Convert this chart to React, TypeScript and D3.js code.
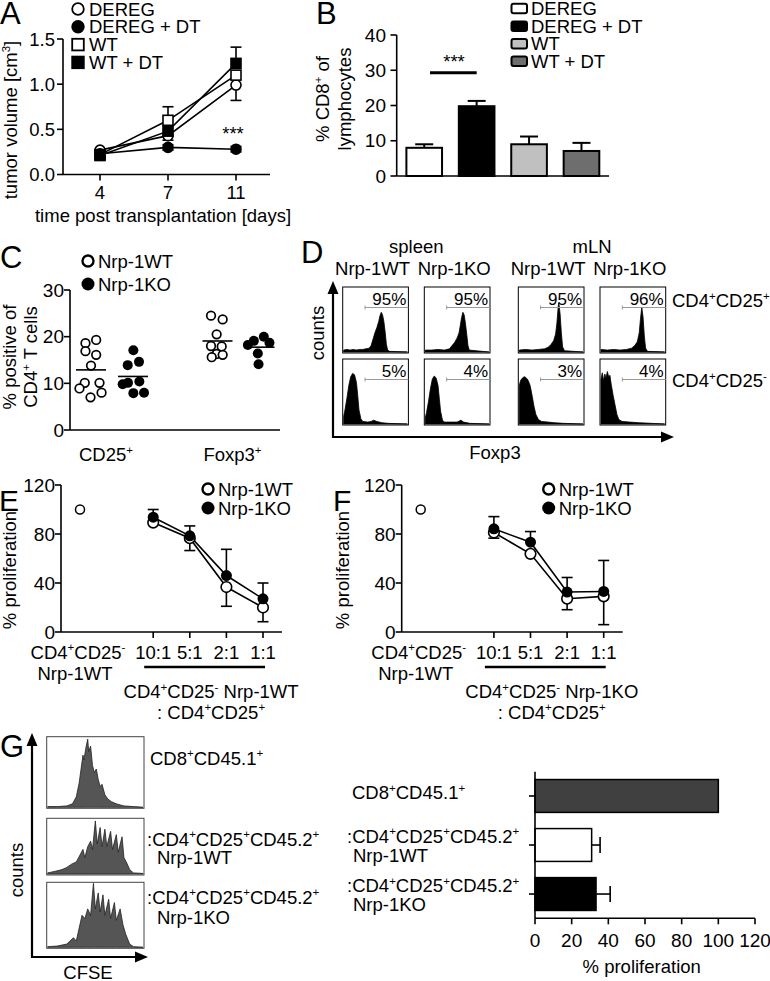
import React from "react";
import * as d3 from "d3";

const FONT = "'Liberation Sans', Arial, Helvetica, sans-serif";
const FS = 18.5;

// ---------- Panel A data ----------
const aDays = ["4", "7", "11"];
const aDereg = [0.27, 0.43, 0.99];
const aDeregUp = [0, 0, 0];
const aDeregDown = [0, 0.05, 0.17];
const aDeregDT = [0.23, 0.3, 0.28];
const aDeregDTUp = [0.02, 0.03, 0.03];
const aDeregDTDown = [0.02, 0.03, 0.03];
const aWT = [0.22, 0.6, 1.1];
const aWTUp = [0, 0.15, 0];
const aWTDown = [0, 0, 0];
const aWTDT = [0.21, 0.48, 1.23];
const aWTDTUp = [0, 0, 0.18];
const aWTDTDown = [0, 0, 0];
const aTicks = [0, 0.5, 1.0, 1.5];

// ---------- Panel B data ----------
const bGroups = ["DEREG", "DEREG + DT", "WT", "WT + DT"];
const bValues = [8.0, 19.8, 9.0, 7.1];
const bErrors = [1.0, 1.5, 2.2, 2.3];
const bFills = ["#ffffff", "#000000", "#c0c0c0", "#6e6e6e"];
const bTicks = [0, 10, 20, 30, 40];

// ---------- Panel C data ----------
const cCategories = ["CD25^+", "Foxp3^+"];
const cWTcd25 = [18.6, 19.3, 16.9, 16.1, 13.8, 10.1, 8.9, 10.1, 8.0, 7.0];
const cWTcd25Jit = [-0.46, 0.43, -0.46, 0.43, 0, -0.52, -0.96, 0.71, 0.88, -0.04];
const cKOcd25 = [17.1, 13.9, 14.6, 9.8, 10.1, 10.4, 7.9, 8.0];
const cKOcd25Jit = [0.03, -0.44, 0.5, -0.86, -0.42, 0.53, 0.03, 0.92];
const cWTfoxp3 = [24.5, 23.7, 20.5, 18.0, 17.9, 16.3, 15.6, 16.1];
const cWTfoxp3Jit = [-0.54, 0.43, -0.07, -0.54, 0.35, -0.07, -0.48, 0.43];
const cKOfoxp3 = [18.2, 19.1, 20.0, 18.7, 16.4, 14.1];
const cKOfoxp3Jit = [-0.97, -0.47, 0.36, 0.83, -0.14, -0.08];
const cTicks = [0, 10, 20, 30];

// ---------- Panel D data ----------
const dColumns = ["Nrp-1WT", "Nrp-1KO", "Nrp-1WT", "Nrp-1KO"];
const dTissues = ["spleen", "mLN"];
const dRows = ["CD4^+CD25^+", "CD4^+CD25^-"];
const dPercents = [
  ["95%", "95%", "95%", "96%"],
  ["5%", "4%", "3%", "4%"],
];
const dSpleenWTpos = [[0,0.03],[0.05,0.04],[0.1,0.03],[0.15,0.04],[0.2,0.03],[0.25,0.04],[0.3,0.04],[0.35,0.05],[0.4,0.06],[0.43,0.1],[0.46,0.2],[0.49,0.3],[0.52,0.38],[0.55,0.48],[0.57,0.57],[0.59,0.62],[0.61,0.58],[0.63,0.48],[0.65,0.32],[0.67,0.12],[0.69,0.03],[0.72,0.01],[1,0]];
const dSpleenKOpos = [[0,0.03],[0.1,0.03],[0.2,0.04],[0.3,0.03],[0.38,0.05],[0.42,0.1],[0.46,0.15],[0.5,0.22],[0.53,0.3],[0.55,0.42],[0.57,0.54],[0.59,0.62],[0.61,0.58],[0.63,0.45],[0.65,0.28],[0.67,0.1],[0.69,0.03],[1,0]];
const dMlnWTpos = [[0,0.03],[0.1,0.04],[0.2,0.03],[0.3,0.04],[0.4,0.05],[0.46,0.08],[0.5,0.12],[0.54,0.18],[0.57,0.28],[0.59,0.45],[0.61,0.7],[0.62,0.77],[0.64,0.6],[0.66,0.3],[0.68,0.08],[0.71,0.02],[1,0]];
const dMlnKOpos = [[0,0.04],[0.1,0.03],[0.2,0.04],[0.3,0.03],[0.4,0.04],[0.48,0.06],[0.53,0.1],[0.57,0.16],[0.6,0.3],[0.62,0.52],[0.64,0.7],[0.66,0.55],[0.68,0.25],[0.7,0.06],[0.73,0.01],[1,0]];
const dSpleenWTneg = [[0,0.12],[0.02,0.22],[0.05,0.4],[0.08,0.6],[0.11,0.74],[0.14,0.79],[0.17,0.77],[0.2,0.65],[0.22,0.45],[0.24,0.22],[0.27,0.08],[0.3,0.04],[0.38,0.03],[0.43,0.04],[0.47,0.06],[0.52,0.04],[0.6,0.02],[0.7,0.01],[1,0]];
const dSpleenKOneg = [[0,0.1],[0.02,0.18],[0.05,0.35],[0.08,0.55],[0.11,0.7],[0.14,0.75],[0.17,0.72],[0.2,0.6],[0.22,0.4],[0.24,0.2],[0.27,0.06],[0.3,0.03],[0.4,0.03],[0.5,0.03],[0.56,0.06],[0.6,0.03],[0.7,0.01],[1,0]];
const dMlnWTneg = [[0,0.6],[0.02,0.68],[0.05,0.72],[0.08,0.74],[0.11,0.72],[0.14,0.68],[0.17,0.6],[0.2,0.45],[0.23,0.28],[0.26,0.15],[0.3,0.07],[0.35,0.04],[0.45,0.03],[0.55,0.02],[0.7,0.01],[1,0]];
const dMlnKOneg = [[0,0.7],[0.02,0.8],[0.04,0.68],[0.06,0.78],[0.08,0.72],[0.1,0.82],[0.12,0.74],[0.14,0.76],[0.16,0.62],[0.19,0.45],[0.22,0.3],[0.25,0.15],[0.28,0.07],[0.33,0.04],[0.45,0.03],[0.6,0.02],[1,0]];

// ---------- Panel E / F data ----------
const ratioLabels = ["10:1", "5:1", "2:1", "1:1"];
const ctrlValue = 100;
const eWT = [89.3, 76.6, 36.7, 20.0];
const eKO = [93.7, 78.5, 46.1, 27.1];
const eKOErrUp = [6.3, 8.1, 21.4, 12.9];
const eWTErrDown = [0, 10.1, 15.7, 11.6];
const fWT = [81.2, 63.8, 27.2, 29.1];
const fKO = [84.2, 73.3, 32.6, 33.1];
const fKOErrUp = [10.0, 8.7, 11.9, 25.3];
const fWTErrDown = [4.6, 0, 9.0, 23.1];
const pTicks = [0, 40, 80, 120];

// ---------- Panel G data ----------
const gLabels = [["CD8^+CD45.1^+"], [":CD4^+CD25^+CD45.2^+", "Nrp-1WT"], [":CD4^+CD25^+CD45.2^+", "Nrp-1KO"]];
const gValues = [100, 30.9, 33.3];
const gErrors = [0, 4.6, 7.7];
const gFills = ["#404040", "#ffffff", "#000000"];
const gTicks = [0, 20, 40, 60, 80, 100, 120];
const gHistCD8 = [[0,0.01],[0.1,0.01],[0.2,0.02],[0.26,0.05],[0.3,0.15],[0.33,0.35],[0.35,0.55],[0.37,0.75],[0.38,0.68],[0.4,0.85],[0.42,0.98],[0.43,0.8],[0.45,0.88],[0.47,0.6],[0.49,0.5],[0.51,0.55],[0.53,0.4],[0.55,0.3],[0.57,0.33],[0.6,0.18],[0.63,0.12],[0.67,0.08],[0.72,0.05],[0.8,0.02],[0.9,0.01],[1,0]];
const gHistWT = [[0,0.02],[0.08,0.05],[0.15,0.08],[0.2,0.12],[0.25,0.18],[0.3,0.22],[0.34,0.35],[0.37,0.45],[0.39,0.3],[0.42,0.5],[0.45,0.6],[0.47,0.45],[0.5,0.97],[0.52,0.55],[0.55,0.85],[0.57,0.5],[0.6,0.82],[0.62,0.5],[0.66,0.78],[0.68,0.45],[0.72,0.72],[0.74,0.4],[0.78,0.68],[0.8,0.3],[0.83,0.2],[0.86,0.08],[0.9,0.02],[1,0.01]];
const gHistKO = [[0,0.01],[0.1,0.02],[0.2,0.05],[0.27,0.15],[0.3,0.1],[0.33,0.3],[0.36,0.5],[0.39,0.45],[0.42,0.6],[0.45,0.5],[0.48,1.0],[0.5,0.6],[0.53,0.85],[0.55,0.55],[0.58,0.82],[0.6,0.5],[0.64,0.75],[0.66,0.45],[0.7,0.7],[0.72,0.42],[0.76,0.6],[0.79,0.35],[0.82,0.2],[0.86,0.05],[0.9,0.01],[1,0]];

// ---------- helpers ----------
function RText({ x = 0, y = 0, text, fs = FS, anchor = "start", transform, fill = "#000" }: any) {
  const tokens: { t: string; sup: boolean }[] = [];
  const re = /\^(.)/g;
  let last = 0;
  let m: any;
  while ((m = re.exec(text))) {
    if (m.index > last) tokens.push({ t: text.slice(last, m.index), sup: false });
    tokens.push({ t: m[1], sup: true });
    last = re.lastIndex;
  }
  if (last < text.length) tokens.push({ t: text.slice(last), sup: false });
  const sh = fs * 0.38;
  let prev = false;
  return (
    <text x={x} y={y} fontSize={fs} textAnchor={anchor} fill={fill} transform={transform} fontFamily={FONT}>
      {tokens.map((tk, i) => {
        let dy = 0;
        if (tk.sup && !prev) dy = -sh;
        else if (!tk.sup && prev) dy = sh;
        prev = tk.sup;
        return (
          <tspan key={i} dy={dy} fontSize={tk.sup ? fs * 0.62 : fs}>
            {tk.t}
          </tspan>
        );
      })}
    </text>
  );
}

function VText({ cx, cy, text, fs = FS }: any) {
  return <RText text={text} fs={fs} anchor="middle" transform={`translate(${cx + fs * 0.35},${cy}) rotate(-90)`} />;
}

function Letter({ x, y, t, fs = 31 }: any) {
  return (
    <text x={x} y={y} fontSize={fs} fontFamily={FONT}>
      {t}
    </text>
  );
}

function ErrV({ x, y1, y2, w = 10, sw = 1.6 }: any) {
  return (
    <g stroke="#000" strokeWidth={sw}>
      <line x1={x} x2={x} y1={y1} y2={y2} />
      <line x1={x - w / 2} x2={x + w / 2} y1={y2} y2={y2} />
    </g>
  );
}

function Marker({ x, y, shape, filled, r = 5, sw = 1.6 }: any) {
  if (shape === "square")
    return <rect x={x - r} y={y - r} width={2 * r} height={2 * r} fill={filled ? "#000" : "#fff"} stroke="#000" strokeWidth={sw} />;
  return <circle cx={x} cy={y} r={r} fill={filled ? "#000" : "#fff"} stroke="#000" strokeWidth={sw} />;
}

function Arrow({ x1, y1, x2, y2 }: any) {
  const ang = Math.atan2(y2 - y1, x2 - x1);
  const L = 13, W = 5.5;
  const bx = x2 - L * Math.cos(ang), by = y2 - L * Math.sin(ang);
  const px = -Math.sin(ang) * W, py = Math.cos(ang) * W;
  return (
    <g>
      <line x1={x1} y1={y1} x2={bx} y2={by} stroke="#000" strokeWidth={2.2} />
      <polygon points={`${x2},${y2} ${bx + px},${by + py} ${bx - px},${by - py}`} fill="#000" />
    </g>
  );
}

function Hist({ x, y, w, h, pts, fill, stroke = "#000", border = "#000" }: any) {
  const xs = d3.scaleLinear().domain([0, 1]).range([x + 1, x + w - 1]);
  const ys = d3.scaleLinear().domain([0, 1]).range([y + h - 1, y + 1]);
  const area = d3
    .area<number[]>()
    .x((d) => xs(d[0]))
    .y0(ys(0))
    .y1((d) => ys(d[1]))
    .curve(d3.curveLinear);
  return (
    <g>
      <rect x={x} y={y} width={w} height={h} fill="#fff" stroke={border} strokeWidth={1} />
      <path d={area(pts as any) || ""} fill={fill} stroke={stroke} strokeWidth={0.8} />
    </g>
  );
}

// ---------- Panel A ----------
function PanelA() {
  const x = d3.scalePoint<string>().domain(aDays).range([100, 236]);
  const y = d3.scaleLinear().domain([0, 1.5]).range([174.5, 39]);
  const series = [
    { v: aDereg, up: aDeregUp, dn: aDeregDown, shape: "circle", filled: false },
    { v: aDeregDT, up: aDeregDTUp, dn: aDeregDTDown, shape: "circle", filled: true },
    { v: aWT, up: aWTUp, dn: aWTDown, shape: "square", filled: false },
    { v: aWTDT, up: aWTDTUp, dn: aWTDTDown, shape: "square", filled: true },
  ];
  const line = d3
    .line<number>()
    .x((_, i) => x(aDays[i])!)
    .y((d) => y(d));
  const legend = [
    { t: "DEREG", shape: "circle", filled: false },
    { t: "DEREG + DT", shape: "circle", filled: true },
    { t: "WT", shape: "square", filled: false },
    { t: "WT + DT", shape: "square", filled: true },
  ];
  return (
    <g>
      <Letter x={0} y={24} t="A" />
      {legend.map((l, i) => (
        <g key={i}>
          <Marker x={78} y={9 + i * 17.8} shape={l.shape} filled={l.filled} r={5.8} sw={1.8} />
          <RText x={89} y={9 + i * 17.8 + 6.5} text={l.t} />
        </g>
      ))}
      <line x1={63} x2={63} y1={y(1.5)} y2={y(0)} stroke="#000" strokeWidth={1.6} />
      <line x1={63} x2={270} y1={y(0)} y2={y(0)} stroke="#000" strokeWidth={1.6} />
      {aTicks.map((t) => (
        <g key={t}>
          <line x1={57} x2={63} y1={y(t)} y2={y(t)} stroke="#000" strokeWidth={1.6} />
          <RText x={55} y={y(t) + 6.5} text={d3.format(".1f")(t)} anchor="end" />
        </g>
      ))}
      {aDays.map((d) => (
        <g key={d}>
          <line x1={x(d)} x2={x(d)} y1={y(0)} y2={y(0) + 6} stroke="#000" strokeWidth={1.6} />
          <RText x={x(d)} y={199} text={d} anchor="middle" />
        </g>
      ))}
      <RText x={163} y={222} text="time post transplantation [days]" anchor="middle" />
      <VText cx={11} cy={120} text="tumor volume [cm^3]" />
      {series.map((s, i) => (
        <path key={i} d={line(s.v) || ""} fill="none" stroke="#000" strokeWidth={1.6} />
      ))}
      {series.map((s, i) =>
        s.v.map((v, j) => (
          <g key={`${i}-${j}`}>
            {s.up[j] > 0 && <ErrV x={x(aDays[j])} y1={y(v)} y2={y(v + s.up[j])} w={11} />}
            {s.dn[j] > 0 && <ErrV x={x(aDays[j])} y1={y(v)} y2={y(v - s.dn[j])} w={11} />}
          </g>
        ))
      )}
      {series.map((s, i) =>
        s.v.map((v, j) => <Marker key={`${i}-${j}`} x={x(aDays[j])} y={y(v)} shape={s.shape} filled={s.filled} r={5} />)
      )}
      <RText x={233} y={140} text="***" anchor="middle" />
    </g>
  );
}

// ---------- Panel B ----------
function PanelB() {
  const x = d3.scaleBand<string>().domain(bGroups).range([396.7, 609]).paddingInner(0.32).paddingOuter(0.185);
  const y = d3.scaleLinear().domain([0, 40]).range([176, 35]);
  return (
    <g>
      <Letter x={316} y={24} t="B" />
      {bGroups.map((g, i) => (
        <g key={g}>
          <rect x={511.5} y={3.8 + i * 17.6} width={15.5} height={9.5} rx={2} fill={bFills[i]} stroke="#000" strokeWidth={2} />
          <RText x={531} y={8.6 + i * 17.6 + 6.5} text={g} />
        </g>
      ))}
      {bGroups.map((g, i) => (
        <g key={g}>
          <ErrV x={x(g)! + x.bandwidth() / 2} y1={y(bValues[i])} y2={y(bValues[i] + bErrors[i])} w={18} sw={2} />
          <rect x={x(g)} y={y(bValues[i])} width={x.bandwidth()} height={y(0) - y(bValues[i])} fill={bFills[i]} stroke="#000" strokeWidth={2} />
        </g>
      ))}
      <line x1={396.7} x2={396.7} y1={y(40)} y2={y(0)} stroke="#000" strokeWidth={1.6} />
      <line x1={396.7} x2={609} y1={y(0)} y2={y(0)} stroke="#000" strokeWidth={1.6} />
      {bTicks.map((t) => (
        <g key={t}>
          <line x1={390.5} x2={396.7} y1={y(t)} y2={y(t)} stroke="#000" strokeWidth={1.6} />
          <RText x={386} y={y(t) + 6.5} text={String(t)} anchor="end" fs={19} />
        </g>
      ))}
      <line x1={430} x2={476.7} y1={72.7} y2={72.7} stroke="#000" strokeWidth={3} />
      <RText x={454} y={68} text="***" anchor="middle" />
      <VText cx={323} cy={99} text="% CD8^+ of" />
      <VText cx={345} cy={99} text="lymphocytes" />
    </g>
  );
}

// ---------- Panel C ----------
function PanelC() {
  const y = d3.scaleLinear().domain([0, 30]).range([430, 290]);
  const cx = d3.scalePoint<string>().domain(cCategories).range([112, 238.5]);
  const half = 21;
  const jw = 12;
  const groups = [
    { cat: cCategories[0], off: -half, v: cWTcd25, j: cWTcd25Jit, filled: false },
    { cat: cCategories[0], off: half, v: cKOcd25, j: cKOcd25Jit, filled: true },
    { cat: cCategories[1], off: -half, v: cWTfoxp3, j: cWTfoxp3Jit, filled: false },
    { cat: cCategories[1], off: half, v: cKOfoxp3, j: cKOfoxp3Jit, filled: true },
  ];
  return (
    <g>
      <Letter x={0} y={268} t="C" />
      <circle cx={88} cy={261} r={5.5} fill="#fff" stroke="#000" strokeWidth={2.4} />
      <RText x={98} y={267.5} text="Nrp-1WT" />
      <circle cx={88} cy={284} r={6.5} fill="#000" />
      <RText x={98} y={290.5} text="Nrp-1KO" />
      <line x1={70} x2={70} y1={y(30)} y2={y(0)} stroke="#000" strokeWidth={1.6} />
      <line x1={70} x2={280} y1={y(0)} y2={y(0)} stroke="#000" strokeWidth={1.6} />
      {cTicks.map((t) => (
        <g key={t}>
          <line x1={64} x2={70} y1={y(t)} y2={y(t)} stroke="#000" strokeWidth={1.6} />
          <RText x={64} y={y(t) + 6.5} text={String(t)} anchor="end" fs={19} />
        </g>
      ))}
      {cCategories.map((c) => (
        <RText key={c} x={cx(c)! - 6} y={461} text={c} anchor="middle" />
      ))}
      {groups.map((g, gi) => {
        const gx = cx(g.cat)! + g.off;
        const m = d3.mean(g.v)!;
        return (
          <g key={gi}>
            {g.v.map((v, i) => (
              <circle key={i} cx={gx + g.j[i] * jw} cy={y(v)} r={g.filled ? 5 : 4.3} fill={g.filled ? "#000" : "#fff"} stroke="#000" strokeWidth={g.filled ? 0 : 1.7} />
            ))}
            <line x1={gx - 15} x2={gx + 15} y1={y(m)} y2={y(m)} stroke="#000" strokeWidth={1.6} />
          </g>
        );
      })}
      <VText cx={10} cy={357} text="% positive of" />
      <VText cx={31} cy={357} text="CD4^+ T cells" />
    </g>
  );
}

// ---------- Panel D ----------
function PanelD() {
  const colX = [342.7, 424.3, 518.3, 600];
  const rowY = [287, 359];
  const bw = 65.7, bh = 66;
  const hists = [
    [dSpleenWTpos, dSpleenKOpos, dMlnWTpos, dMlnKOpos],
    [dSpleenWTneg, dSpleenKOneg, dMlnWTneg, dMlnKOneg],
  ];
  return (
    <g>
      <Letter x={301} y={263} t="D" />
      <RText x={(colX[0] + colX[1] + bw) / 2} y={253} text={dTissues[0]} anchor="middle" />
      <RText x={(colX[2] + colX[3] + bw) / 2} y={253} text={dTissues[1]} anchor="middle" />
      {dColumns.map((c, i) => (
        <RText key={i} x={colX[i] + bw / 2 - 3} y={274.5} text={c} anchor="middle" />
      ))}
      {hists.map((row, ri) =>
        row.map((pts, ci) => (
          <g key={`${ri}-${ci}`}>
            <Hist x={colX[ci]} y={rowY[ri]} w={bw} h={bh} pts={pts} fill="#000" />
            <g stroke="#9a9a9a" strokeWidth={1}>
              <line x1={colX[ci] + bw * 0.34} x2={colX[ci] + bw} y1={rowY[ri] + 20.5} y2={rowY[ri] + 20.5} />
              <line x1={colX[ci] + bw * 0.34} x2={colX[ci] + bw * 0.34} y1={rowY[ri] + 18.5} y2={rowY[ri] + 22.5} />
            </g>
            <RText x={colX[ci] + bw - 2} y={rowY[ri] + 18} text={dPercents[ri][ci]} anchor="end" fs={17} />
          </g>
        ))
      )}
      <RText x={672} y={307} text={dRows[0]} />
      <RText x={672} y={387} text={dRows[1]} />
      <Arrow x1={333} y1={438} x2={333} y2={281} />
      <Arrow x1={332} y1={437} x2={674} y2={437} />
      <VText cx={318} cy={333} text="counts" />
      <RText x={495} y={459} text="Foxp3" anchor="middle" />
    </g>
  );
}

// ---------- Panel E / F ----------
function ProlifPanel({ ax, letter, letterX, labelX, wt, ko, koUp, wtDown, bottom }: any) {
  const y = d3.scaleLinear().domain([0, 120]).range([632, 485]);
  const x = d3.scalePoint<string>().domain(["ctrl", "gap", ...ratioLabels]).range([ax + 19, ax + 202]);
  const line = d3
    .line<number>()
    .x((_, i) => x(ratioLabels[i])!)
    .y((d) => y(d));
  const x0 = x("10:1")!, x1 = x("1:1")!;
  const mid = (x0 + x1) / 2;
  return (
    <g>
      <Letter x={letterX} y={511} t={letter} fs={30} />
      <line x1={ax} x2={ax} y1={y(120)} y2={y(0)} stroke="#000" strokeWidth={1.6} />
      <line x1={ax} x2={ax + 221} y1={y(0)} y2={y(0)} stroke="#000" strokeWidth={1.6} />
      {pTicks.map((t) => (
        <g key={t}>
          <line x1={ax - 6} x2={ax} y1={y(t)} y2={y(t)} stroke="#000" strokeWidth={1.6} />
          <RText x={ax - 6} y={y(t) + 6.5} text={String(t)} anchor="end" fs={19} />
        </g>
      ))}
      {ratioLabels.map((r) => (
        <g key={r}>
          <line x1={x(r)} x2={x(r)} y1={y(0)} y2={y(0) + 6} stroke="#000" strokeWidth={1.6} />
          <RText x={x(r)} y={658.5} text={r} anchor="middle" />
        </g>
      ))}
      <RText x={x("ctrl")! - 2} y={658.5} text="CD4^+CD25^-" anchor="middle" />
      <RText x={x("ctrl")! - 5} y={679.5} text="Nrp-1WT" anchor="middle" />
      <line x1={x0 - 9} x2={x1 + 2} y1={667} y2={667} stroke="#000" strokeWidth={2.4} />
      <RText x={mid + 3} y={698} text={bottom} anchor="middle" />
      <RText x={mid + 3} y={718.5} text=": CD4^+CD25^+" anchor="middle" />
      <VText cx={labelX} cy={570} text="% proliferation" />
      <path d={line(wt) || ""} fill="none" stroke="#000" strokeWidth={1.6} />
      <path d={line(ko) || ""} fill="none" stroke="#000" strokeWidth={1.6} />
      {ratioLabels.map((r, i) => (
        <g key={r}>
          {koUp[i] > 0 && <ErrV x={x(r)} y1={y(ko[i])} y2={y(ko[i] + koUp[i])} w={11} />}
          {wtDown[i] > 0 && <ErrV x={x(r)} y1={y(wt[i])} y2={y(wt[i] - wtDown[i])} w={11} />}
        </g>
      ))}
      {ratioLabels.map((r, i) => (
        <g key={r}>
          <circle cx={x(r)} cy={y(wt[i])} r={5.3} fill="#fff" stroke="#000" strokeWidth={1.6} />
          <circle cx={x(r)} cy={y(ko[i])} r={5.5} fill="#000" />
        </g>
      ))}
      <circle cx={x("ctrl")} cy={y(ctrlValue)} r={4.5} fill="#fff" stroke="#000" strokeWidth={1.5} />
      <circle cx={ax + 147} cy={489} r={5.5} fill="#fff" stroke="#000" strokeWidth={2.4} />
      <RText x={ax + 157} y={495.5} text="Nrp-1WT" />
      <circle cx={ax + 147} cy={508} r={6.5} fill="#000" />
      <RText x={ax + 157} y={514.5} text="Nrp-1KO" />
    </g>
  );
}

// ---------- Panel G ----------
function PanelG() {
  const x = d3.scaleLinear().domain([0, 120]).range([535, 755]);
  const keys = gLabels.map((_, i) => String(i));
  const y = d3.scaleBand<string>().domain(keys).range([771.7, 918.3]).paddingInner(0.33).paddingOuter(0.16);
  const boxes = [
    { y: 736.7, h: 71.6, pts: gHistCD8 },
    { y: 818.3, h: 56.7, pts: gHistWT },
    { y: 882.3, h: 66, pts: gHistKO },
  ];
  const leftLabelY = [[758], [839, 857], [897, 917]];
  return (
    <g>
      <Letter x={0} y={757} t="G" />
      {boxes.map((b, i) => (
        <Hist key={i} x={46.7} y={b.y} w={97.3} h={b.h} pts={b.pts} fill="#555" stroke="#222" border="#444" />
      ))}
      {gLabels.map((ls, i) =>
        ls.map((t, k) => <RText key={`${i}-${k}`} x={k === 0 && i > 0 ? 147 : i === 0 ? 150 : 157} y={leftLabelY[i][k] + 6.5} text={t} />)
      )}
      <Arrow x1={32} y1={958} x2={32} y2={733} />
      <Arrow x1={31} y1={957} x2={148} y2={957} />
      <VText cx={17} cy={870} text="counts" />
      <RText x={88} y={979} text="CFSE" anchor="middle" />

      {keys.map((k, i) => (
        <g key={k}>
          {gErrors[i] > 0 && (
            <g stroke="#000" strokeWidth={1.6}>
              <line x1={x(gValues[i])} x2={x(gValues[i] + gErrors[i])} y1={y(k)! + y.bandwidth() / 2} y2={y(k)! + y.bandwidth() / 2} />
              <line x1={x(gValues[i] + gErrors[i])} x2={x(gValues[i] + gErrors[i])} y1={y(k)! + y.bandwidth() / 2 - 8} y2={y(k)! + y.bandwidth() / 2 + 8} />
            </g>
          )}
          <rect x={x(0)} y={y(k)} width={x(gValues[i]) - x(0)} height={y.bandwidth()} fill={gFills[i]} stroke="#000" strokeWidth={1.5} />
          <line x1={x(0) - 6} x2={x(0)} y1={y(k)! + y.bandwidth() / 2} y2={y(k)! + y.bandwidth() / 2} stroke="#000" strokeWidth={1.6} />
        </g>
      ))}
      <line x1={535} x2={535} y1={771.7} y2={918.3} stroke="#000" strokeWidth={1.6} />
      <line x1={535} x2={755} y1={918.3} y2={918.3} stroke="#000" strokeWidth={1.6} />
      {gTicks.map((t) => (
        <g key={t}>
          <line x1={x(t)} x2={x(t)} y1={918.3} y2={924.3} stroke="#000" strokeWidth={1.6} />
          <RText x={x(t)} y={946.5} text={String(t)} anchor="middle" fs={19} />
        </g>
      ))}
      <RText x={641.7} y={973} text="% proliferation" anchor="middle" />
      {gLabels.map((ls, i) => {
        const c = y(String(i))! + y.bandwidth() / 2;
        if (ls.length === 1) return <RText key={i} x={352} y={c - 3 + 6.5} text={ls[0]} />;
        return (
          <g key={i}>
            <RText x={347} y={c - 9 + 6.5} text={ls[0]} />
            <RText x={353} y={c + 10 + 6.5} text={ls[1]} />
          </g>
        );
      })}
    </g>
  );
}

export default function App() {
  return (
    <svg width={770} height={981} style={{ position: "absolute", left: 0, top: 0, background: "#fff" }} fontFamily={FONT}>
      <rect width={770} height={981} fill="#fff" />
      <PanelA />
      <PanelB />
      <PanelC />
      <PanelD />
      <ProlifPanel ax={61} letter="E" letterX={-1} labelX={10} wt={eWT} ko={eKO} koUp={eKOErrUp} wtDown={eWTErrDown} bottom="CD4^+CD25^- Nrp-1WT" />
      <ProlifPanel ax={401.7} letter="F" letterX={333} labelX={343} wt={fWT} ko={fKO} koUp={fKOErrUp} wtDown={fWTErrDown} bottom="CD4^+CD25^- Nrp-1KO" />
      <PanelG />
    </svg>
  );
}
